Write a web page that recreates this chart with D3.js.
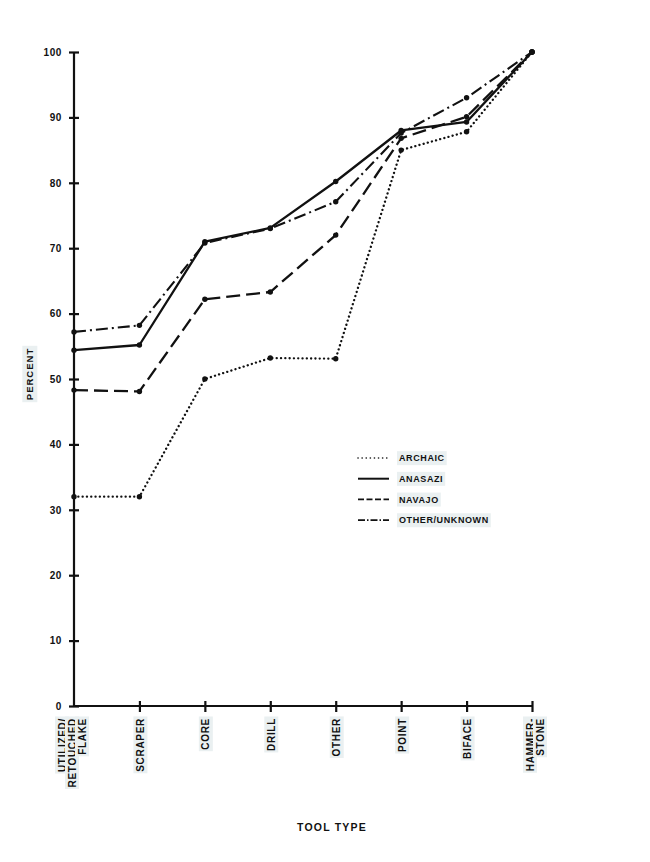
<!DOCTYPE html>
<html>
<head>
<meta charset="utf-8">
<script src="https://cdn.jsdelivr.net/npm/d3@7"></script>
<style>
  html, body { margin: 0; padding: 0; background: #fff; }
  svg { display: block; }
  text { font-family: "Liberation Sans", Arial, Helvetica, sans-serif; font-weight: bold; fill: #111; }
</style>
</head>
<body>
<script>
// ---- data ----
const categories = ["UTILIZED/|RETOUCHED|FLAKE", "SCRAPER", "CORE", "DRILL", "OTHER", "POINT", "BIFACE", "HAMMER-|STONE"];
const seriesNames = ["ARCHAIC", "ANASAZI", "NAVAJO", "OTHER/UNKNOWN"];
const archaic = [32, 32, 50, 53.2, 53.1, 85, 87.8, 100];
const anasazi = [54.4, 55.2, 71, 73.1, 80.2, 88, 89.3, 100];
const navajo = [48.3, 48.1, 62.2, 63.3, 72, 86.8, 90.1, 100];
const otherUnknown = [57.2, 58.2, 70.8, 73, 77.1, 87.6, 93, 100];
const yTicks = [0, 10, 20, 30, 40, 50, 60, 70, 80, 90, 100];

const W = 650, H = 862;
const svg = d3.select("body").append("svg").attr("width", W).attr("height", H);

const x = d3.scalePoint().domain(categories).range([74, 532]);
const y = d3.scaleLinear().domain([0, 100]).range([706, 52]);

const styles = [
  { dash: "0.1 4.2", width: 2.3, cap: "round" },
  { dash: null, width: 2.3, cap: "butt" },
  { dash: "14 6", width: 2.3, cap: "butt" },
  { dash: "12 4 2 4", width: 2.1, cap: "butt" }
];
const series = [archaic, anasazi, navajo, otherUnknown];

function bgRect(sel, pad) {
  sel.each(function () {
    const b = this.getBBox();
    const t = this.getAttribute("transform");
    d3.select(this.parentNode).insert("rect", () => this)
      .attr("x", b.x - pad).attr("y", b.y - pad)
      .attr("width", b.width + 2 * pad).attr("height", b.height + 2 * pad)
      .attr("transform", t)
      .attr("fill", "#eaf0f1");
  });
}

// ---- axes ----
const gy = svg.append("g").attr("transform", `translate(${x(categories[0])},0)`)
  .call(d3.axisLeft(y).tickValues(yTicks).tickSize(5).tickPadding(7));
gy.select(".domain").attr("stroke", "#111").attr("stroke-width", 2.2).attr("d", `M0,${y(0)}V${y(100)}`);
gy.selectAll(".tick line").attr("x1", -5).attr("x2", 5).attr("stroke", "#111").attr("stroke-width", 2.2);
gy.selectAll(".tick text").attr("font-size", 10).attr("font-family", "Liberation Sans, Arial, sans-serif")
  .attr("font-weight", "bold").attr("fill", "#111").attr("letter-spacing", 0.6);

const gx = svg.append("g").attr("transform", `translate(0,${y(0)})`)
  .call(d3.axisBottom(x).tickSize(0).tickFormat(""));
gx.select(".domain").attr("stroke", "#111").attr("stroke-width", 2.2)
  .attr("d", `M${x(categories[0]) - 1},0H${x(categories[categories.length - 1])}`);
gx.selectAll(".tick line").attr("y1", -5).attr("y2", 6).attr("stroke", "#111").attr("stroke-width", 2.2)
  .filter((d, i) => i === 0).remove();

// x labels rotated
const lab = svg.append("g");
categories.forEach(c => {
  const lines = c.split("|");
  const n = lines.length;
  lines.forEach((ln, i) => {
    const cx = x(c) + (i - (n - 1) / 2) * 10 + (n === 2 ? 3 : n === 3 ? -2 : 1);
    lab.append("text")
      .attr("transform", `translate(${cx},718) rotate(-90)`)
      .attr("text-anchor", "end").attr("dy", "0.35em")
      .attr("font-size", 10).attr("letter-spacing", 0.7)
      .text(ln);
  });
});
bgRect(lab.selectAll("text"), 1.5);

// axis titles
const pt = svg.append("text").attr("transform", "translate(30,374) rotate(-90)")
  .attr("text-anchor", "middle").attr("dy", "0.35em").attr("font-size", 9.5).attr("letter-spacing", 1)
  .text("PERCENT");
bgRect(pt, 2);
svg.append("text").attr("x", 332).attr("y", 827).attr("text-anchor", "middle").attr("dy", "0.35em")
  .attr("font-size", 10.5).attr("letter-spacing", 1.2).text("TOOL TYPE");

// ---- lines ----
const line = d3.line().x((d, i) => x(categories[i])).y(d => y(d));
series.forEach((s, k) => {
  const st = styles[k];
  svg.append("path").datum(s)
    .attr("d", line).attr("fill", "none").attr("stroke", "#111")
    .attr("stroke-width", st.width).attr("stroke-linecap", st.cap).attr("stroke-linejoin", "round")
    .attr("stroke-dasharray", st.dash);
  svg.append("g").selectAll("circle").data(s).join("circle")
    .attr("cx", (d, i) => x(categories[i])).attr("cy", d => y(d)).attr("r", 2.7).attr("fill", "#111");
});

// ---- legend ----
const lg = svg.append("g").attr("transform", "translate(358,458)");
seriesNames.forEach((nm, k) => {
  const st = styles[k];
  const ry = k * 20.7;
  lg.append("line").attr("x1", 0).attr("x2", 31).attr("y1", ry).attr("y2", ry)
    .attr("stroke", "#111").attr("stroke-width", k === 1 ? 2 : 1.6)
    .attr("stroke-linecap", st.cap)
    .attr("stroke-dasharray", k === 0 ? "0.1 4" : k === 2 ? "6 2.5" : k === 3 ? "7 2 1.5 2" : null);
  lg.append("text").attr("class", "lt").attr("x", 41).attr("y", ry).attr("dy", "0.35em")
    .attr("font-size", 9).attr("letter-spacing", 0.6).text(nm);
});
bgRect(lg.selectAll("text.lt"), 2);
</script>
</body>
</html>
